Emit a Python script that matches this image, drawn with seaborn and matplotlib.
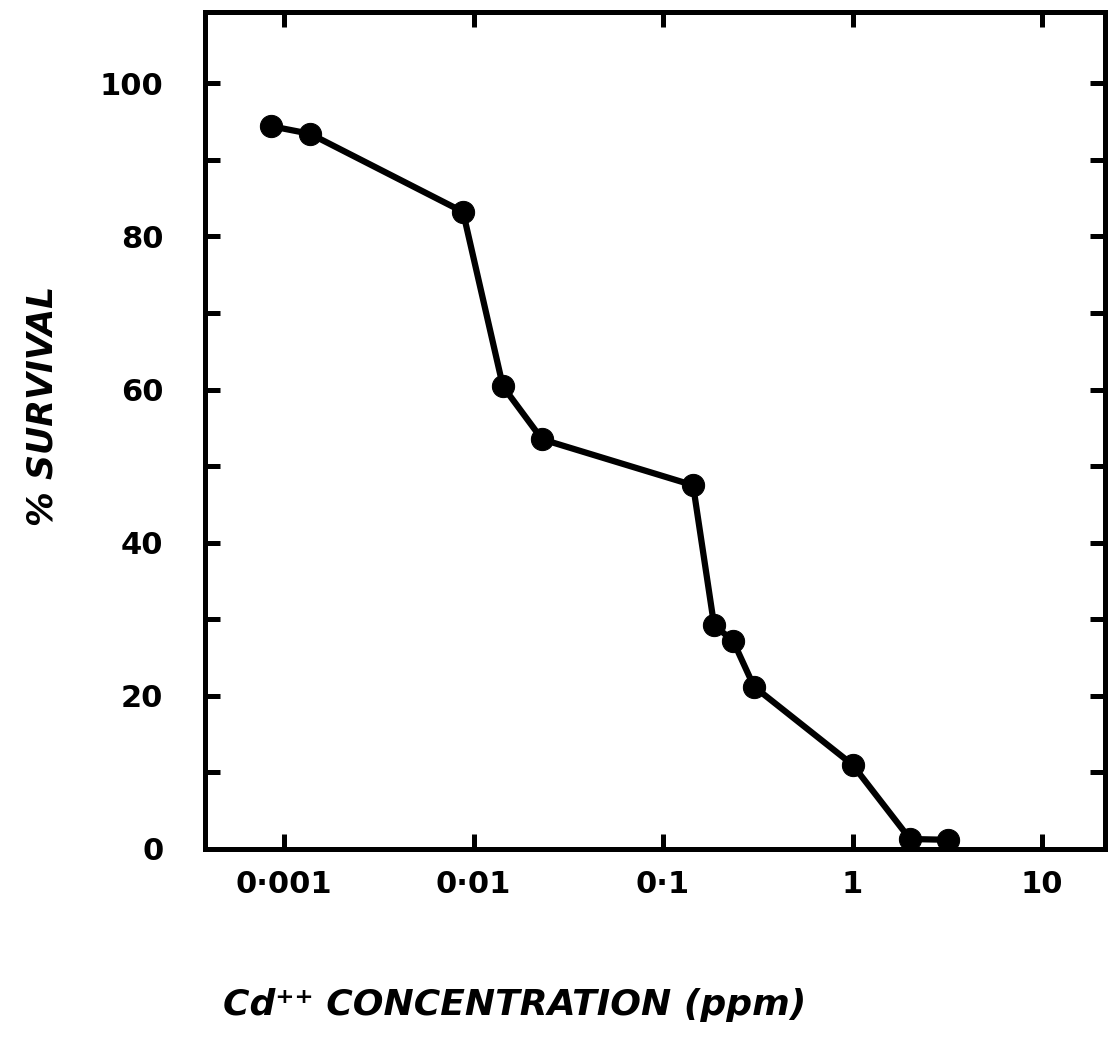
import matplotlib
matplotlib.use("Agg")
import matplotlib.pyplot as plt
from matplotlib.ticker import FixedLocator, NullLocator, FixedFormatter
import seaborn as sns
import pandas as pd

# ---- data ----
concentration_ppm = [0.00085, 0.00137, 0.0088, 0.0143, 0.0230, 0.144,
                     0.186, 0.234, 0.302, 1.0, 2.01, 3.19]
survival_pct = [94.4, 93.4, 83.2, 60.4, 53.5, 47.5,
                29.2, 27.2, 21.2, 11.0, 1.3, 1.2]
x_tick_values = [0.001, 0.01, 0.1, 1, 10]
x_tick_labels = ["0\u00b7001", "0\u00b701", "0\u00b71", "1", "10"]
y_tick_values = [0, 20, 40, 60, 80, 100]
y_tick_labels = ["0", "20", "40", "60", "80", "100"]
y_minor_values = [10, 30, 50, 70, 90]
x_label = "Cd\u207a\u207a CONCENTRATION (ppm)"
y_label = "% SURVIVAL"

df = pd.DataFrame({"conc": concentration_ppm, "surv": survival_pct})

sns.set_theme(style="ticks")
plt.rcParams["font.family"] = ["DejaVu Sans"]
plt.rcParams["text.color"] = "black"
plt.rcParams["axes.labelcolor"] = "black"
plt.rcParams["xtick.color"] = "black"
plt.rcParams["ytick.color"] = "black"
plt.rcParams["xtick.labelcolor"] = "black"
plt.rcParams["ytick.labelcolor"] = "black"

fig = plt.figure(figsize=(11.08, 10.44), dpi=100)
fig.patch.set_facecolor("white")
ax = fig.add_axes([0.1850, 0.1868, 0.8123, 0.8017])
ax.set_facecolor("white")

sns.lineplot(data=df, x="conc", y="surv", ax=ax, color="black",
             linewidth=4.5, marker="o", markersize=16,
             markeredgecolor="black", markerfacecolor="black", sort=False)

ax.set_xscale("log")
ax.set_xlim(10 ** -3.417, 10 ** 1.332)
ax.set_ylim(0, 109.3)

ax.xaxis.set_major_locator(FixedLocator(x_tick_values))
ax.xaxis.set_major_formatter(FixedFormatter(x_tick_labels))
ax.xaxis.set_minor_locator(NullLocator())
ax.yaxis.set_major_locator(FixedLocator(y_tick_values))
ax.yaxis.set_major_formatter(FixedFormatter(y_tick_labels))
ax.yaxis.set_minor_locator(FixedLocator(y_minor_values))

for s in ax.spines.values():
    s.set_visible(True)
    s.set_linewidth(3.6)
    s.set_color("black")

ax.tick_params(axis="both", which="both", direction="in", length=11,
               width=3.6, color="black", labelcolor="black",
               top=True, right=True, labeltop=False, labelright=False)
ax.tick_params(axis="x", which="major", pad=15, labelsize=22)
ax.tick_params(axis="y", which="major", pad=30, labelsize=22)
for lab in ax.get_xticklabels() + ax.get_yticklabels():
    lab.set_fontweight("bold")
    lab.set_color("black")

ax.set_xlabel(x_label, fontsize=26, fontweight="bold", color="black",
              fontstyle="italic", ha="center", va="center")
ax.xaxis.set_label_coords(0.344, -0.186)
ax.set_ylabel(y_label, fontsize=25, fontweight="bold", color="black",
              fontstyle="italic", ha="center", va="center")
ax.yaxis.set_label_coords(-0.181, 0.530)

ax.grid(False)
fig.savefig("out.png", dpi=100, facecolor="white")
